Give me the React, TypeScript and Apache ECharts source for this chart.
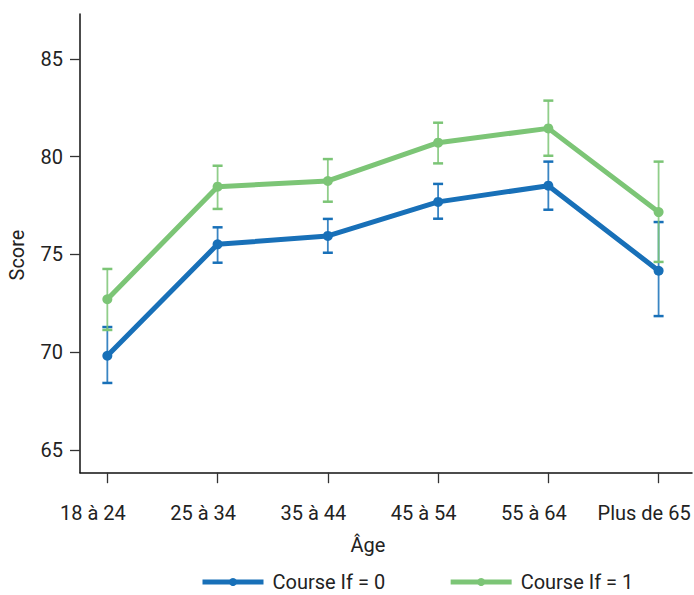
import React, { useEffect, useRef } from "react";
import * as echarts from "echarts";

const categories = ["18 à 24", "25 à 34", "35 à 44", "45 à 54", "55 à 64", "Plus de 65"];
const seriesNames = ["Course If = 0", "Course If = 1"];
const scoreIf0 = [69.82, 75.52, 75.95, 77.69, 78.52, 74.17];
const lowIf0 = [68.43, 74.58, 75.09, 76.83, 77.29, 71.85];
const highIf0 = [71.29, 76.39, 76.82, 78.61, 79.75, 76.66];
const scoreIf1 = [72.71, 78.47, 78.76, 80.72, 81.45, 77.17];
const lowIf1 = [71.14, 77.33, 77.7, 79.66, 80.05, 74.62];
const highIf1 = [74.26, 79.54, 79.88, 81.74, 82.87, 79.75];
const yTicks = [65, 70, 75, 80, 85];
const xTicks = [0, 1, 2, 3, 4, 5];

const BLUE = "#1870b8";
const GREEN = "#7cc576";
const FONT = "Roboto";

function errorSeries(low: number[], high: number[], color: string) {
  return {
    type: "custom",
    silent: true,
    z: 3,
    data: low.map((l, i) => [i, l, high[i]]),
    encode: { x: 0, y: [1, 2] },
    renderItem: (params: any, api: any) => {
      const x = api.value(0);
      const lo = api.coord([x, api.value(1)]);
      const hi = api.coord([x, api.value(2)]);
      const hw = 5;
      return {
        type: "group",
        children: [
          {
            type: "line",
            shape: { x1: lo[0], y1: lo[1], x2: hi[0], y2: hi[1] },
            style: { stroke: color, lineWidth: 1.8, opacity: 0.85 },
          },
          {
            type: "line",
            shape: { x1: lo[0] - hw, y1: lo[1], x2: lo[0] + hw, y2: lo[1] },
            style: { stroke: color, lineWidth: 2.5 },
          },
          {
            type: "line",
            shape: { x1: hi[0] - hw, y1: hi[1], x2: hi[0] + hw, y2: hi[1] },
            style: { stroke: color, lineWidth: 2.5 },
          },
        ],
      };
    },
  };
}

export default function App() {
  const ref = useRef<HTMLDivElement>(null);
  useEffect(() => {
    document.body.style.margin = "0";
    if (!ref.current) return;
    const chart = echarts.init(ref.current, null, { renderer: "svg" });
    chart.setOption({
      animation: false,
      backgroundColor: "#ffffff",
      textStyle: { fontFamily: FONT },
      grid: {
        left: 80,
        right: 2,
        top: 14,
        bottom: 122.3,
        containLabel: false,
        outerBoundsMode: "none",
      },
      xAxis: {
        type: "value",
        min: -0.248,
        max: 5.303,
        splitLine: { show: false },
        axisLine: { show: true, onZero: false, lineStyle: { color: "#111", width: 1.5 } },
        axisTick: { show: true, customValues: xTicks, length: 10.5, lineStyle: { color: "#333", width: 1.3 } },
        axisLabel: {
          customValues: xTicks,
          formatter: (v: number) => categories[Math.round(v)] ?? "",
          fontSize: 20,
          color: "#222",
          fontFamily: FONT,
          margin: 30,
          padding: [0, 29, 0, 0],
          showMinLabel: true,
          showMaxLabel: true,
          hideOverlap: false,
        },
      },
      yAxis: {
        type: "value",
        min: 63.84,
        max: 87.3,
        splitLine: { show: false },
        axisLine: { show: true, onZero: false, lineStyle: { color: "#111", width: 1.5 } },
        axisTick: { show: true, customValues: yTicks, length: 10, lineStyle: { color: "#333", width: 1.3 } },
        axisLabel: {
          customValues: yTicks,
          fontSize: 20,
          color: "#222",
          fontFamily: FONT,
          margin: 17,
        },
      },
      legend: {
        data: seriesNames,
        left: 195,
        top: 567,
        itemWidth: 61,
        itemHeight: 10,
        itemGap: 63,
        lineStyle: { width: 5 },
        textStyle: {
          fontSize: 20,
          lineHeight: 20,
          color: "#222",
          fontFamily: FONT,
          padding: [0, 0, 0, 4],
        },
      },
      graphic: [
        {
          type: "text",
          x: 17,
          y: 255,
          rotation: Math.PI / 2,
          style: {
            text: "Score",
            font: `20px ${FONT}`,
            fill: "#222",
            textAlign: "center",
            textVerticalAlign: "middle",
          },
        },
        {
          type: "text",
          x: 368,
          y: 545,
          style: {
            text: "Âge",
            font: `20px ${FONT}`,
            fill: "#222",
            textAlign: "center",
            textVerticalAlign: "middle",
          },
        },
      ],
      series: [
        {
          name: seriesNames[0],
          type: "line",
          data: scoreIf0.map((v, i) => [i, v]),
          symbol: "circle",
          symbolSize: 10,
          color: BLUE,
          lineStyle: { width: 5, color: BLUE },
          itemStyle: { color: BLUE },
          z: 2,
        },
        {
          name: seriesNames[1],
          type: "line",
          data: scoreIf1.map((v, i) => [i, v]),
          symbol: "circle",
          symbolSize: 10,
          color: GREEN,
          lineStyle: { width: 5, color: GREEN },
          itemStyle: { color: GREEN },
          z: 2,
        },
        errorSeries(lowIf0, highIf0, BLUE),
        errorSeries(lowIf1, highIf1, GREEN),
      ],
    });
    return () => chart.dispose();
  }, []);
  return <div ref={ref} style={{ width: 694, height: 595 }} />;
}
